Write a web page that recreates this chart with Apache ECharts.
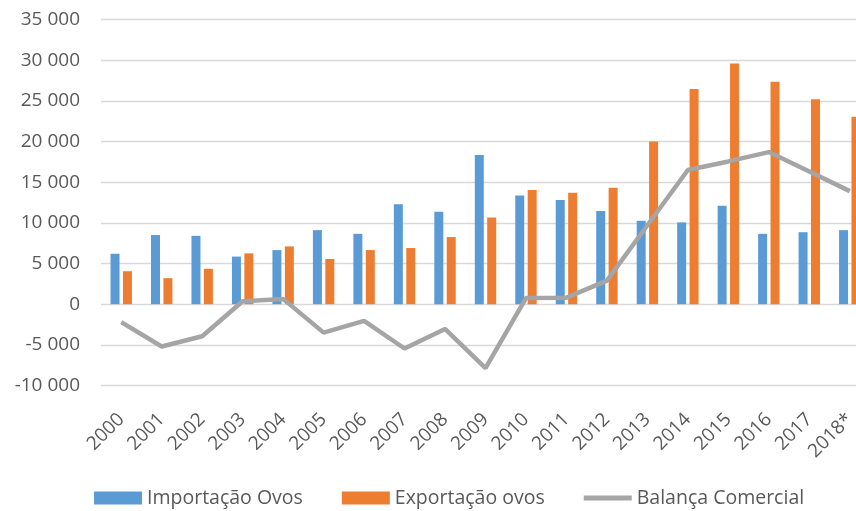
<!DOCTYPE html>
<html>
<head>
<meta charset="utf-8">
<script src="https://cdn.jsdelivr.net/npm/echarts@6/dist/echarts.min.js"></script>
<style>
  html, body { margin: 0; padding: 0; background: #fff; }
  #chart { width: 856px; height: 511px; }
</style>
</head>
<body>
<div id="chart"></div>
<script>
// dados
const anos = ['2000', '2001', '2002', '2003', '2004', '2005', '2006', '2007', '2008', '2009',
  '2010', '2011', '2012', '2013', '2014', '2015', '2016', '2017', '2018*']
const importacao = [6200, 8500, 8400, 5850, 6650, 9100, 8650, 12300, 11350, 18350,
  13350, 12800, 11450, 10250, 10050, 12100, 8650, 8850, 9100]
const exportacao = [4050, 3200, 4350, 6250, 7100, 5550, 6650, 6900, 8250, 10650,
  14050, 13700, 14300, 20000, 26450, 29600, 27350, 25200, 23050]
const balanca = [-2200, -5200, -3950, 350, 650, -3500, -2050, -5450, -3050, -7850,
  750, 800, 2900, 9700, 16500, 17550, 18700, 16300, 13900]
const nomes = ['Importação Ovos', 'Exportação ovos', 'Balança Comercial']

const fonte = 'Open Sans'
const corTexto = '#595959'

let myChart = echarts.init(document.getElementById('chart'), null, { renderer: 'canvas' })

let option = {
  animation: false,
  textStyle: { fontFamily: fonte },
  grid: {
    left: 101,
    right: -14,
    top: 19.5,
    bottom: 125.5,
    outerBoundsMode: 'none',
    containLabel: false,
  },
  legend: {
    left: 89,
    bottom: -2,
    itemWidth: 48,
    itemHeight: 13,
    itemGap: 39,
    symbolKeepAspect: true,
    textStyle: { color: corTexto, fontSize: 19.5, fontFamily: fonte },
    data: [
      { name: nomes[0], icon: 'rect' },
      { name: nomes[1], icon: 'rect' },
      { name: nomes[2], icon: 'path://M0,0L100,0L100,10L0,10Z' },
    ],
  },
  xAxis: {
    type: 'category',
    data: anos,
    axisLine: { show: false },
    axisTick: { show: false },
    axisLabel: {
      rotate: 45,
      color: corTexto,
      fontSize: 19,
      fontFamily: fonte,
      margin: 31,
      interval: 0,
    },
  },
  yAxis: {
    type: 'value',
    min: -10000,
    max: 35000,
    interval: 5000,
    axisLine: { show: false },
    axisTick: { show: false },
    splitLine: { lineStyle: { color: '#d9d9d9', width: 1.3 } },
    axisLabel: {
      color: corTexto,
      fontSize: 19,
      fontFamily: fonte,
      margin: 21,
      formatter: function (v) {
        return String(v).replace(/\B(?=(\d{3})+(?!\d))/g, ' ')
      },
    },
  },
  series: [
    {
      name: nomes[0],
      type: 'bar',
      data: importacao,
      barWidth: 9,
      barGap: '38%',
      itemStyle: { color: '#5B9BD5' },
    },
    {
      name: nomes[1],
      type: 'bar',
      data: exportacao,
      barWidth: 9,
      itemStyle: { color: '#ED7D31' },
    },
    {
      name: nomes[2],
      type: 'line',
      data: balanca,
      symbol: 'none',
      showSymbol: false,
      lineStyle: { color: '#A5A5A5', width: 4.5 },
      itemStyle: { color: '#A5A5A5' },
    },
  ],
}

myChart.setOption(option)
window.addEventListener('resize', myChart.resize)
</script>
</body>
</html>
